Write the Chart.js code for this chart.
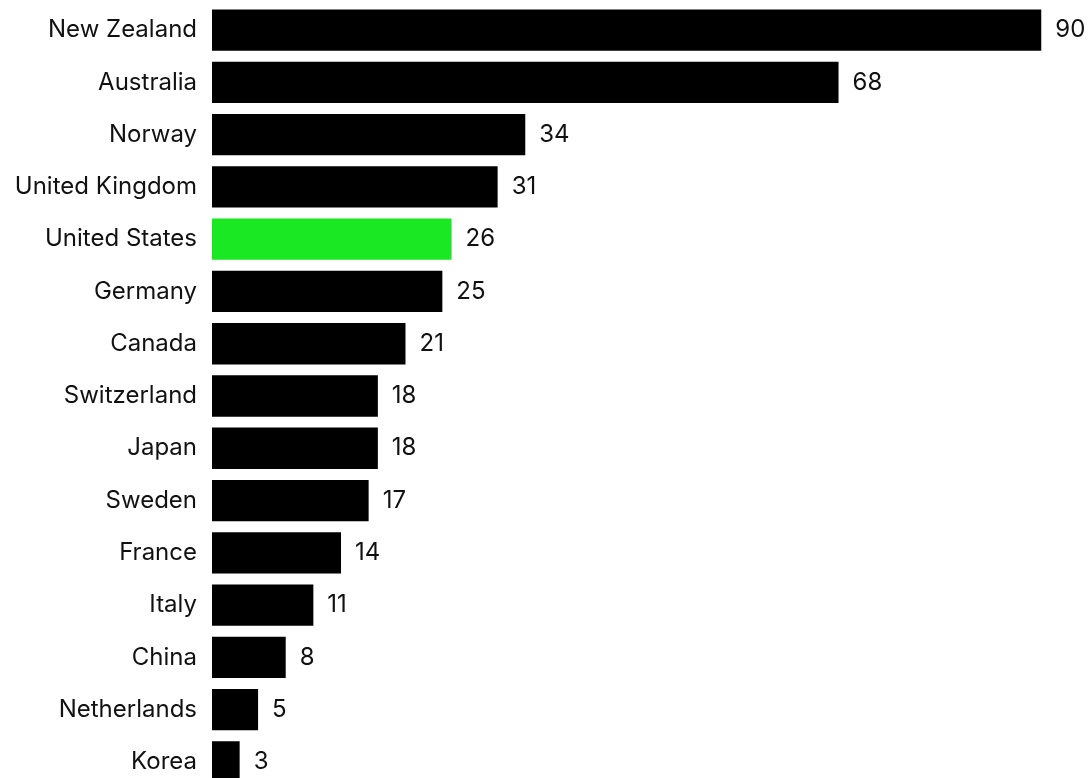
<!DOCTYPE html>
<html>
<head>
<meta charset="utf-8">
<script src="https://cdn.jsdelivr.net/npm/chart.js@4/dist/chart.umd.min.js"></script>
<style>
  html, body { margin: 0; padding: 0; background: #fff; overflow: hidden; }
  #wrap { position: relative; width: 1091px; height: 788px; }
</style>
</head>
<body>
<div id="wrap"><canvas id="chart"></canvas></div>
<script>
const countries = ["New Zealand", "Australia", "Norway", "United Kingdom", "United States",
  "Germany", "Canada", "Switzerland", "Japan", "Sweden", "France", "Italy", "China",
  "Netherlands", "Korea"];
const values = [90, 68, 34, 31, 26, 25, 21, 18, 18, 17, 14, 11, 8, 5, 3];
const highlight = "United States";

const barColors = countries.map(c => c === highlight ? "#19e823" : "#000000");
const FONT = "Inter, 'Liberation Sans', Arial, sans-serif";

// numbers at the end of each bar
const valueLabels = {
  id: "valueLabels",
  afterDatasetsDraw(chart) {
    const ctx = chart.ctx;
    const meta = chart.getDatasetMeta(0);
    ctx.save();
    ctx.font = "24px " + FONT;
    ctx.fillStyle = "#111";
    ctx.textAlign = "left";
    ctx.textBaseline = "middle";
    meta.data.forEach((bar, i) => {
      ctx.fillText(values[i], bar.x + 14, bar.y);
    });
    ctx.restore();
  }
};

new Chart(document.getElementById("chart"), {
  type: "bar",
  data: {
    labels: countries,
    datasets: [{
      data: values,
      backgroundColor: barColors,
      borderWidth: 0,
      barPercentage: 0.79,
      categoryPercentage: 1.0
    }]
  },
  options: {
    indexAxis: "y",
    responsive: true,
    maintainAspectRatio: false,
    animation: false,
    layout: { padding: { top: 4, right: 0, bottom: 0, left: 0 } },
    plugins: {
      legend: { display: false },
      tooltip: { enabled: false }
    },
    scales: {
      x: {
        display: false,
        min: 0,
        max: 95.4
      },
      y: {
        grid: { display: false, drawTicks: false },
        border: { display: false },
        ticks: {
          color: "#111",
          font: { family: FONT, size: 24 },
          padding: 15
        },
        afterFit(scale) {
          scale.width = 212;
          scale.paddingTop = 0;
          scale.paddingBottom = 0;
        }
      }
    }
  },
  plugins: [valueLabels]
});
</script>
</body>
</html>
